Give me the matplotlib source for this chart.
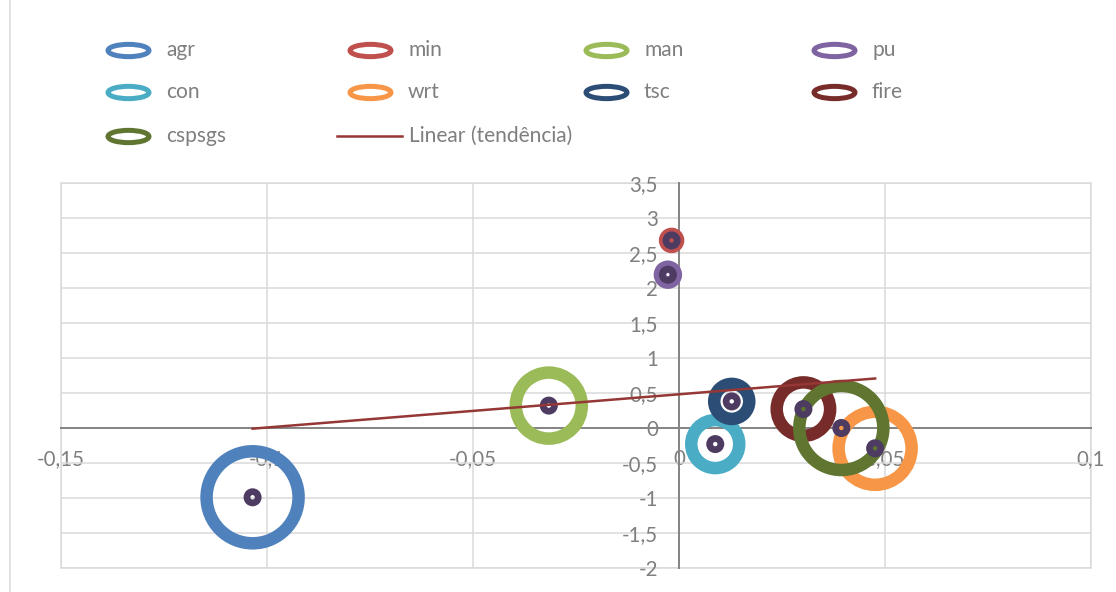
"""Bubble chart: sector coordinates with bubble size, linear trend line (Excel style)."""
import numpy as np
import matplotlib
matplotlib.use("Agg")
import matplotlib.pyplot as plt
from matplotlib.lines import Line2D
from matplotlib.path import Path
from matplotlib.transforms import Affine2D
from matplotlib.ticker import FixedLocator, FuncFormatter

# --- data ---
sectors = ["agr", "min", "man", "pu", "con", "wrt", "tsc", "fire", "cspsgs"]
x_vals = [-0.1035, -0.0018, -0.0316, -0.0027, 0.0088, 0.0476, 0.0128, 0.0302, 0.0394]
y_vals = [-0.99, 2.68, 0.32, 2.19, -0.23, -0.29, 0.38, 0.27, 0.00]
bubble = [1.00, 0.020, 0.515, 0.030, 0.272, 0.630, 0.145, 0.337, 0.834]
trend_label = "Linear (tendência)"

x_ticks = [-0.15, -0.10, -0.05, 0.0, 0.05, 0.10]
y_ticks = [-2, -1.5, -1, -0.5, 0, 0.5, 1, 1.5, 2, 2.5, 3, 3.5]

COLORS = ["#4f81bd", "#c0504d", "#9bbb59", "#8064a2", "#4bacc6",
          "#f79646", "#2c4d75", "#772c2a", "#5f7530"]
DOT_COLOR = "#4d3b62"
TREND_COLOR = "#953735"
GRID = "#d9d9d9"
AXIS = "#868686"
TEXT = "#7f7f7f"

plt.rcParams["font.family"] = ["Lato", "DejaVu Sans"]

W, H, DPI = 1116, 592, 72
fig = plt.figure(figsize=(W / DPI, H / DPI), dpi=DPI)
ax = fig.add_axes([61 / W, (H - 568) / H, 1030 / W, 385 / H])

# bubbles: Excel scales area with value, largest bubble ~ 92 px across
max_r = 46.0
ring_w = 12.5
for i, name in enumerate(sectors):
    r = max_r * np.sqrt(bubble[i] / max(bubble))
    ax.scatter([x_vals[i]], [y_vals[i]], s=(2 * r) ** 2, facecolors="none",
               edgecolors=COLORS[i], linewidths=ring_w, zorder=3)

# small marker series on top of every bubble
ax.scatter(x_vals, y_vals, s=11.3 ** 2, facecolors="none",
           edgecolors=DOT_COLOR, linewidths=6.7, zorder=4)

# linear trend of the points
coef = np.polyfit(x_vals, y_vals, 1)
xs = np.array([min(x_vals), max(x_vals)])
ax.plot(xs, np.polyval(coef, xs), color=TREND_COLOR, lw=2.5, zorder=5)

# axes styling
ax.set_xlim(x_ticks[0], x_ticks[-1])
ax.set_ylim(y_ticks[0], y_ticks[-1])
ax.xaxis.set_major_locator(FixedLocator(x_ticks))
ax.yaxis.set_major_locator(FixedLocator(y_ticks))
fmt = FuncFormatter(lambda v, _: f"{round(v, 2):g}".replace(".", ","))
ax.xaxis.set_major_formatter(fmt)
ax.yaxis.set_major_formatter(fmt)
ax.grid(True, color=GRID, lw=1.5, zorder=0)
ax.set_axisbelow(True)
for side in ("top", "right"):
    ax.spines[side].set_visible(False)
for side in ("left", "bottom"):
    ax.spines[side].set_position(("data", 0))
    ax.spines[side].set_color(AXIS)
    ax.spines[side].set_linewidth(2)
    ax.spines[side].set_zorder(1)
ax.patch.set_edgecolor(GRID)
ax.patch.set_linewidth(1.5)
ax.tick_params(axis="both", length=0, labelsize=20.5, labelcolor=TEXT)
ax.tick_params(axis="x", pad=21)
ax.tick_params(axis="y", pad=21)

# legend, Excel layout: 4 fixed-width columns
ellipse = Path(Affine2D().scale(1.0, 0.3).transform(Path.unit_circle().vertices),
               Path.unit_circle().codes)
col_x = [128, 370, 606, 834]
row_y = [50, 92, 136]
for i, name in enumerate(sectors):
    cx, cy = col_x[i % 4], row_y[i // 4]
    fig.add_artist(Line2D([cx / W], [1 - cy / H], transform=fig.transFigure,
                          marker=ellipse, markersize=41, markerfacecolor="none",
                          markeredgecolor=COLORS[i], markeredgewidth=5, ls="none"))
    fig.text((cx + 38) / W, 1 - cy / H, name, fontsize=21, color=TEXT, va="center")
fig.add_artist(Line2D([337 / W, 402 / W], [1 - 136 / H] * 2, transform=fig.transFigure,
                      color=TREND_COLOR, lw=2.5))
fig.text(409 / W, 1 - 136 / H, trend_label, fontsize=21, color=TEXT, va="center")

# chart area border (left edge visible in crop)
fig.add_artist(Line2D([10 / W] * 2, [0, 1], transform=fig.transFigure, color=GRID, lw=1.5))

fig.savefig("out.png", dpi=DPI)
